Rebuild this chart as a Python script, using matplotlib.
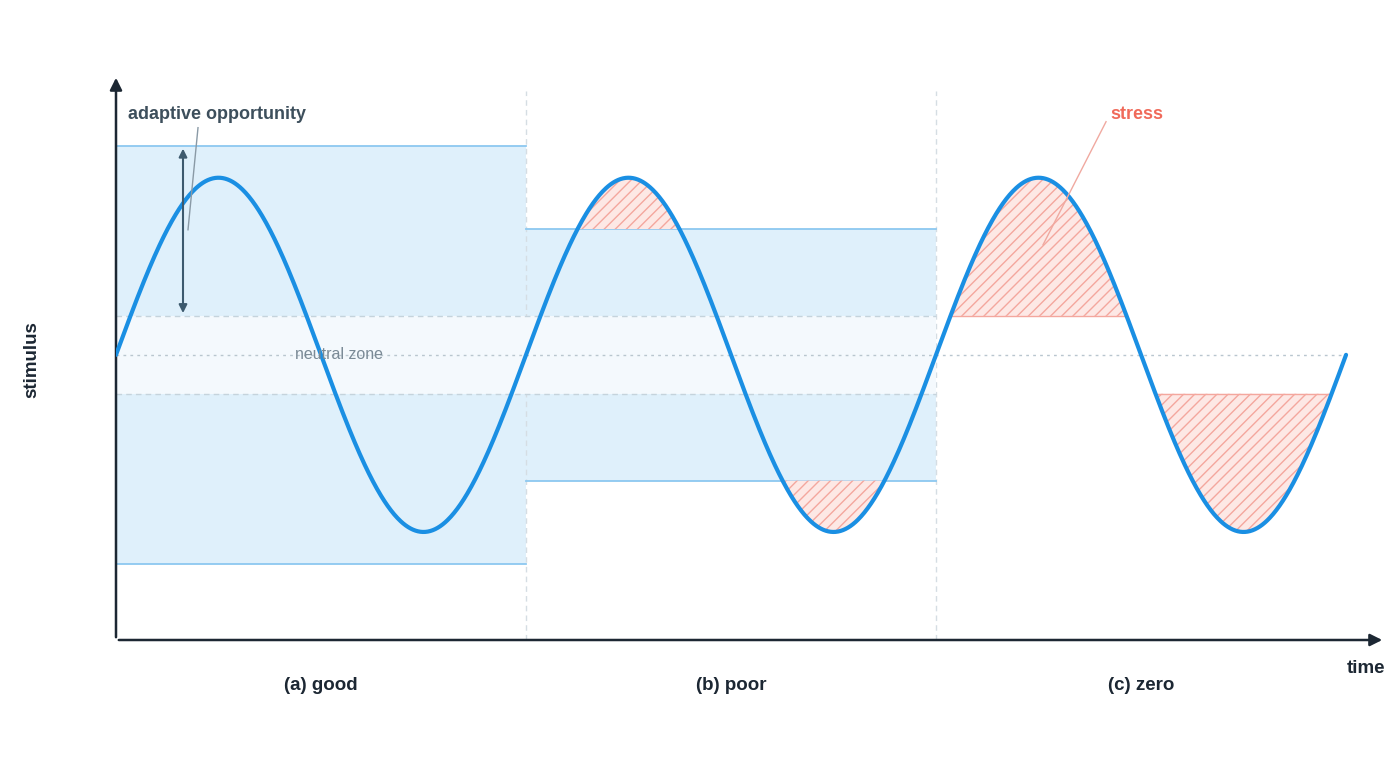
import numpy as np
import matplotlib
matplotlib.use("Agg")
import matplotlib.pyplot as plt
from matplotlib.patches import Rectangle

plt.rcParams['font.family'] = ['Liberation Sans', 'DejaVu Sans']

panels = ["(a) good", "(b) poor", "(c) zero"]
band_half = [1.18, 0.71, 0.22]   # adaptive band half-width per panel
neutral = 0.22
amp = 1.0

W, H = 1400, 763
fig = plt.figure(figsize=(14, 7.63), dpi=100)
x0p, x1p, y0p, y1p = 116, 1385, 640, 75
ax = fig.add_axes([x0p/W, (H-y0p)/H, (x1p-x0p)/W, (y0p-y1p)/H])
ax.set_xlim(0, 3.095)
ax.set_ylim(-1.61, 1.58)
ax.axis('off')

blue = '#1a8fe3'
bandc = '#dff0fb'
edgec = '#8cc8f0'
hatch_edge = '#f4a79e'

# bands
for i, hw in enumerate(band_half):
    if i < 2:
        ax.add_patch(Rectangle((i, -hw), 1, 2*hw, facecolor=bandc, edgecolor='none', zorder=1))
        ax.plot([i, i+1], [hw, hw], color=edgec, lw=1.3, zorder=2)
        ax.plot([i, i+1], [-hw, -hw], color=edgec, lw=1.3, zorder=2)
# neutral zone
ax.add_patch(Rectangle((0, -neutral), 2, 2*neutral, facecolor='#f4f9fd', edgecolor='none', zorder=1.5))
ax.plot([0, 2], [neutral, neutral], color='#c5d3dc', lw=1, ls=(0, (4, 3)), zorder=2)
ax.plot([0, 2], [-neutral, -neutral], color='#c5d3dc', lw=1, ls=(0, (4, 3)), zorder=2)
ax.plot([0, 3], [0, 0], color='#b9c6cf', lw=1, ls=(0, (2, 3)), zorder=2)

# separators
for xs in [1, 2]:
    ax.plot([xs, xs], [-1.61, 1.49], color='#d5dde3', lw=1, ls=(0, (4, 3)), zorder=1)

# sine
t = np.linspace(0, 3, 1500)
y = amp*np.sin(2*np.pi*t)
ax.plot(t, y, color=blue, lw=3, zorder=5, solid_capstyle='round')

# stress hatching
for i, hw in enumerate(band_half):
    m = (t >= i) & (t <= i+1)
    tt, yy = t[m], y[m]
    for sgn in [1, -1]:
        cond = (sgn*yy > hw)
        if cond.any():
            ax.fill_between(tt, yy, sgn*hw, where=cond, facecolor='#fde8e5', edgecolor=hatch_edge,
                            hatch='///', lw=0, zorder=3)
            if i == 2:
                xs_ = tt[cond]
                ax.plot([xs_.min(), xs_.max()], [sgn*hw, sgn*hw], color=hatch_edge, lw=1, zorder=3)
plt.rcParams['hatch.color'] = hatch_edge

# axes arrows
ax.annotate('', xy=(3.095, -1.61), xytext=(0, -1.61),
            arrowprops=dict(arrowstyle='-|>', color='#1c2733', lw=1.8, mutation_scale=18), annotation_clip=False)
ax.annotate('', xy=(0, 1.58), xytext=(0, -1.61),
            arrowprops=dict(arrowstyle='-|>', color='#1c2733', lw=1.8, mutation_scale=18), annotation_clip=False)

# adaptive opportunity arrow
xa = (183-116)/410
ax.annotate('', xy=(xa, 1.18), xytext=(xa, 0.22),
            arrowprops=dict(arrowstyle='<|-|>', color='#3d5a6e', lw=1.5, mutation_scale=12), zorder=6)
ax.plot([(188-116)/410, (198-116)/410], [(355-230)/177, (355-128)/177], color='#8a9aa6', lw=1, zorder=6)
ax.text((128-116)/410, (355-115)/177, 'adaptive opportunity', fontsize=13, fontweight='bold',
        color='#3d4f5c', va='center', ha='left')
ax.plot([(1043-116)/410, (1106-116)/410], [(355-245)/177, (355-122)/177], color='#f0a9a0', lw=1, zorder=6)
ax.text((1110-116)/410, (355-115)/177, 'stress', fontsize=13, fontweight='bold',
        color='#f06a5a', va='center', ha='left')
ax.text((295-116)/410, 0, 'neutral zone', fontsize=11.5, color='#7a8a96', va='center', ha='left', zorder=6)

for i, p in enumerate(panels):
    ax.text(i+0.5, -1.61-(45/177), p, fontsize=13.5, fontweight='bold', color='#1c2733',
            ha='center', va='center')
ax.text(3.095, -1.61-(28/177), 'time', fontsize=13.5, fontweight='bold', color='#1c2733',
        ha='right', va='center')
fig.text(32/W, 1-360/H, 'stimulus', rotation=90, fontsize=13.5, fontweight='bold',
         color='#1c2733', ha='center', va='center')

fig.savefig('out.png', dpi=100, facecolor='white')
